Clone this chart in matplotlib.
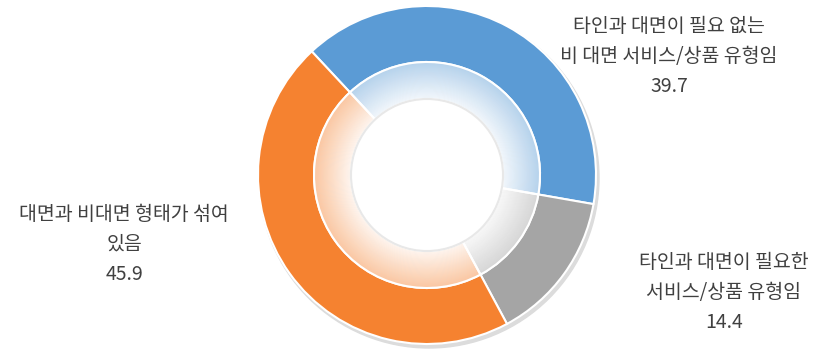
import numpy as np
import matplotlib.pyplot as plt
from matplotlib.colors import to_rgb

plt.rcParams['font.family'] = ['Noto Sans CJK KR', 'DejaVu Sans']

labels = ["타인과 대면이 필요 없는\n비 대면 서비스/상품 유형임",
          "타인과 대면이 필요한\n서비스/상품 유형임",
          "대면과 비대면 형태가 섞여\n있음"]
values = [39.7, 14.4, 45.9]
colors = ["#5B9BD5", "#A5A5A5", "#F58230"]

W, H = 815, 349
cx, cy = 427, H - 175
r_out, r_mid, r_hole = 169, 113, 76
start = 133

fig = plt.figure(figsize=(W / 100, H / 100), dpi=100)
ax = fig.add_axes([0, 0, 1, 1])

# soft shadow behind ring
ax.add_patch(plt.Circle((cx + 2, cy - 3), r_out + 1, color="#dcdcdc", zorder=0))

# outer solid ring
ax.pie(values, colors=colors, startangle=start, counterclock=False,
       center=(cx, cy), radius=r_out, frame=True,
       wedgeprops=dict(width=r_out - r_mid, edgecolor="white", linewidth=1.5))

# inner gradient band, light tint fading to white
n = 40
for i in range(n):
    t = i / (n - 1)
    r = r_mid - (r_mid - r_hole) * i / n
    mix = 0.55 + 0.37 * t
    cols = [tuple(np.array(to_rgb(c)) * (1 - mix) + mix) for c in colors]
    ax.pie(values, colors=cols, startangle=start, counterclock=False,
           center=(cx, cy), radius=r, frame=True,
           wedgeprops=dict(width=(r_mid - r_hole) / n + 0.6, linewidth=0))

# separators through gradient band
ax.pie(values, colors=["none"] * 3, startangle=start, counterclock=False,
       center=(cx, cy), radius=r_mid, frame=True,
       wedgeprops=dict(width=r_mid - r_hole, edgecolor="white", linewidth=1.5, fill=False))

# hole
ax.add_patch(plt.Circle((cx, cy), r_hole, color="white", zorder=5))
ax.add_patch(plt.Circle((cx, cy), r_hole, fill=False, ec="#e8e8e8", lw=1.5, zorder=6))

ax.set_xlim(0, W)
ax.set_ylim(0, H)
ax.set_aspect("equal")
ax.axis("off")

label_pos = [(669, H - 27), (724, H - 263), (124, H - 215)]
for lab, v, (x, y) in zip(labels, values, label_pos):
    lines = lab.split("\n") + [f"{v:.1f}"]
    for k, line in enumerate(lines):
        ax.text(x, y - 29.5 * k, line, ha="center", va="center",
                fontsize=14, fontweight="medium", color="#404040")

fig.savefig("out.png", dpi=100)
